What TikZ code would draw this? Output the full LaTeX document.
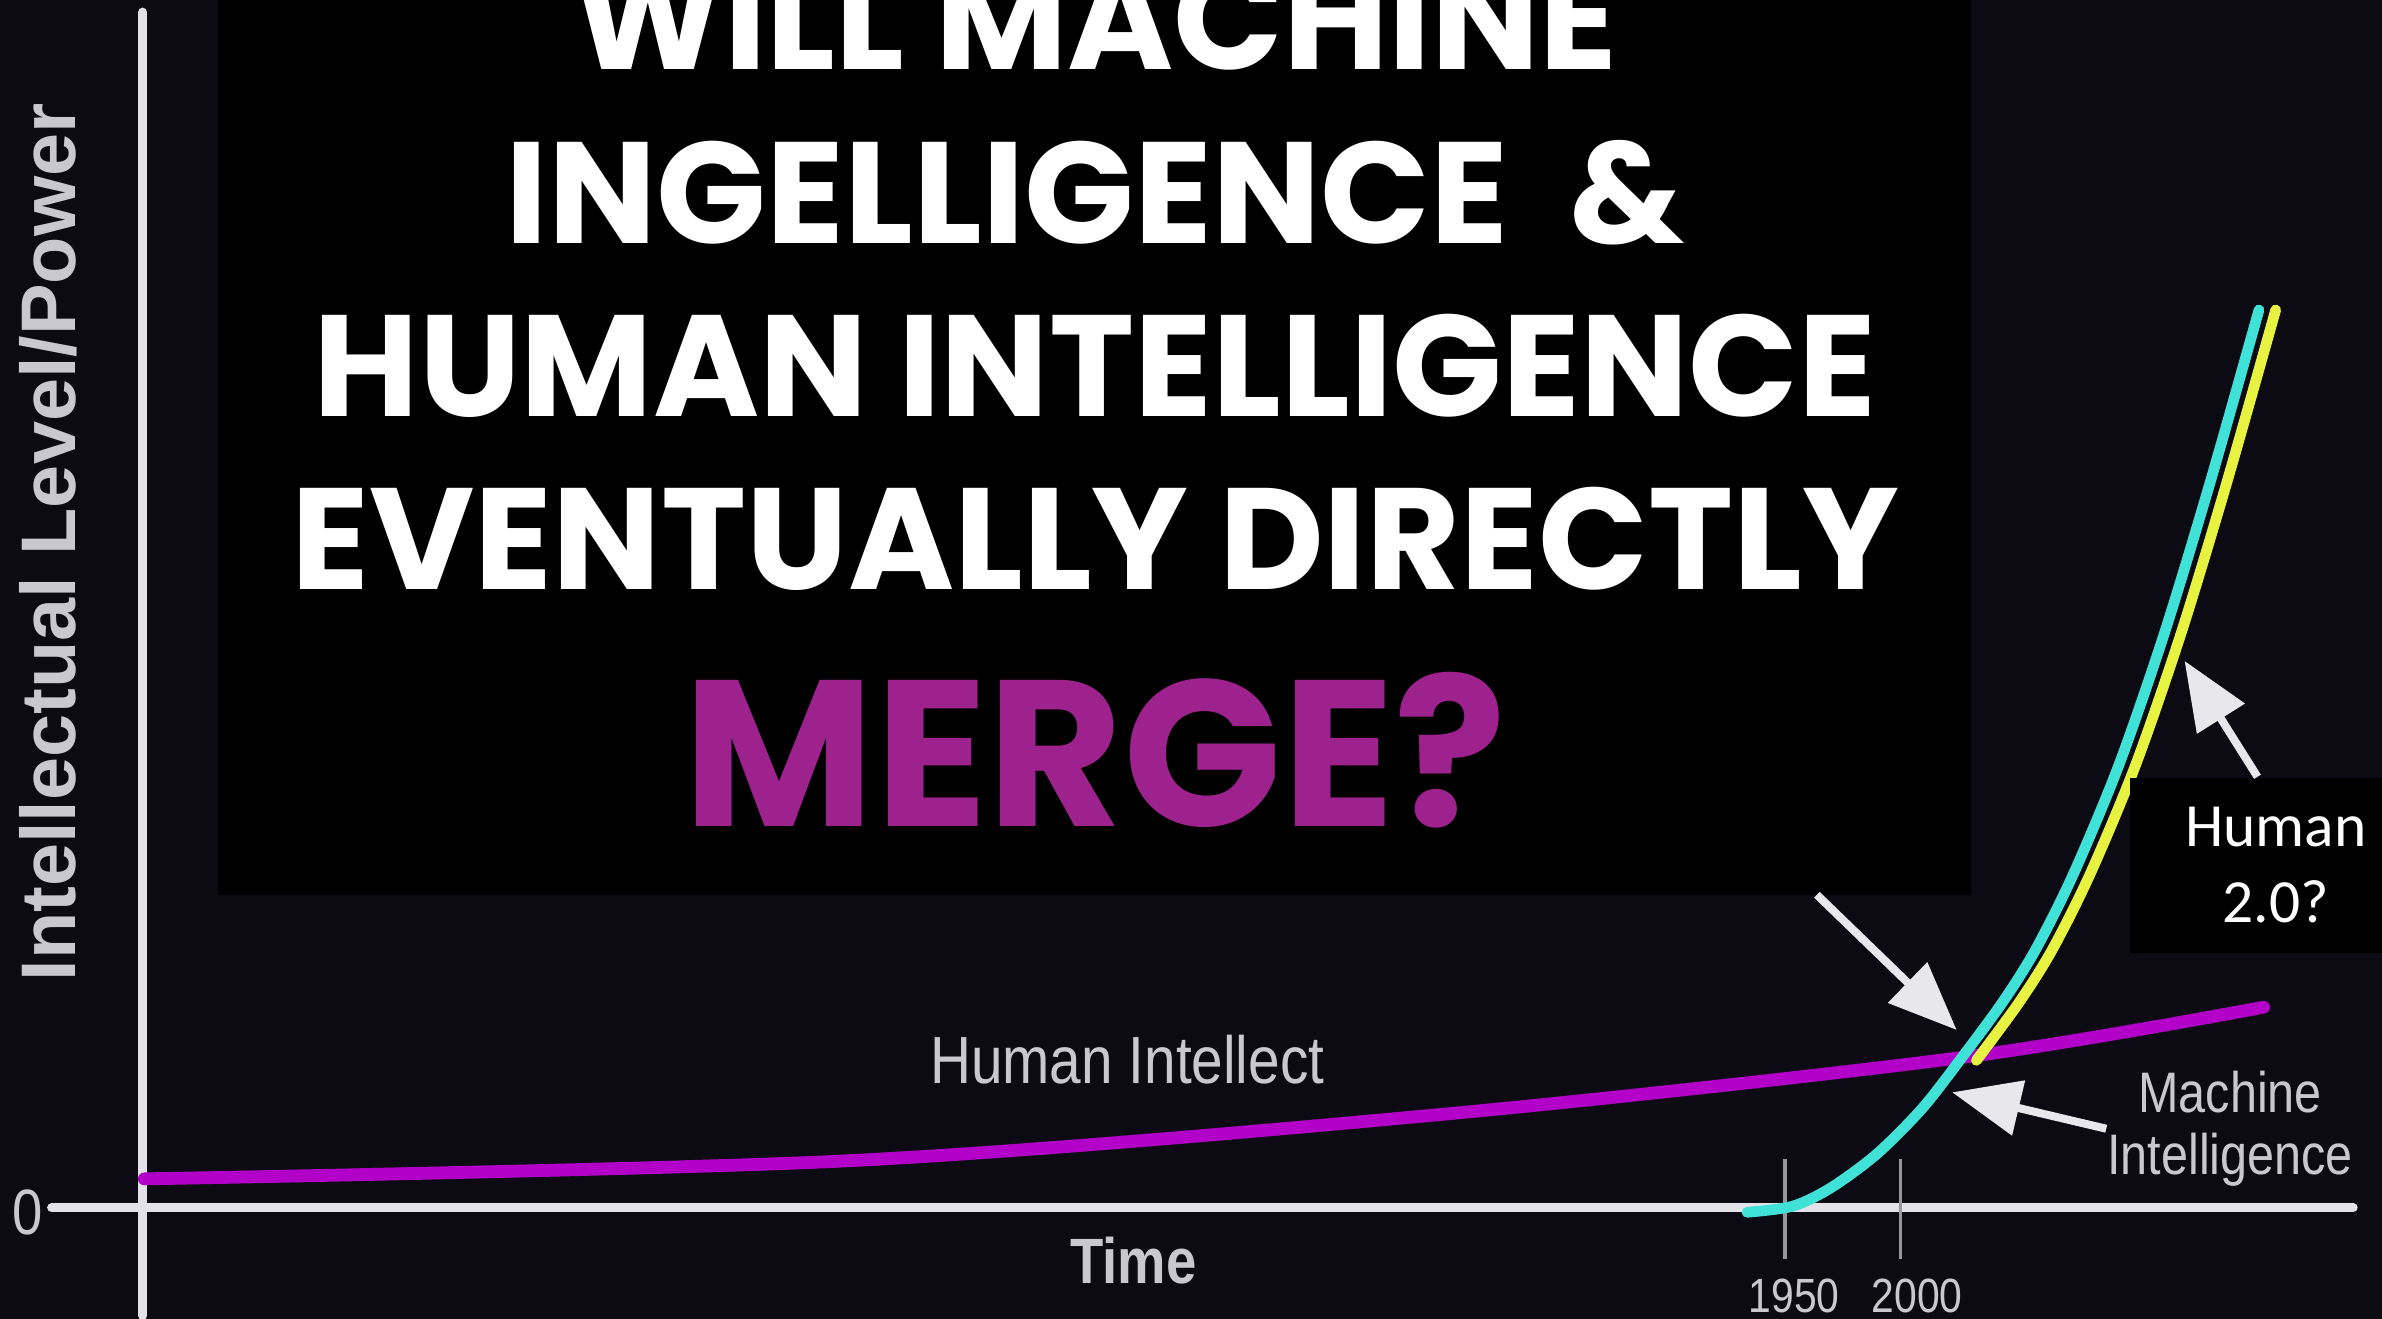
\documentclass[tikz,border=0pt]{standalone}
\usepackage{fontspec}
\usetikzlibrary{arrows.meta}
\newfontfamily\titlefont{Poppins}
\newfontfamily\chartfont{Liberation Sans}[FakeStretch=0.85]
\newfontfamily\axisfont{Liberation Sans}
\newfontfamily\boxfont{Carlito}
\definecolor{bgcol}{RGB}{12,11,20}
\definecolor{axiscol}{RGB}{226,226,232}
\definecolor{tickcol}{RGB}{150,150,158}
\definecolor{labelgray}{RGB}{200,200,206}
\definecolor{arrowcol}{RGB}{232,232,236}
\definecolor{humancol}{RGB}{178,0,200}
\definecolor{machinecol}{RGB}{64,226,216}
\definecolor{mergedcol}{RGB}{232,242,64}
\definecolor{mergecol}{RGB}{158,34,142}
\begin{document}
\begin{tikzpicture}[
    axis/.style={draw=axiscol, line width=1.7pt, line cap=round},
    tickline/.style={draw=tickcol, line width=0.6pt},
    curve/.style={line width=2pt, line cap=round},
    chartlabel/.style={text=labelgray, inner sep=0pt, font=\chartfont\fontsize{12.5}{14}\selectfont},
    titleline/.style={text=white, inner sep=0pt, anchor=base, font=\titlefont\bfseries\fontsize{27}{32}\selectfont},
    pointer/.style={draw=arrowcol, line width=1.5pt, -{Triangle[length=4.5mm,width=3.6mm]}}
  ]
  \path[use as bounding box, fill=bgcol] (0,0) rectangle (15.68,8.68);
  \clip (0,0) rectangle (15.68,8.68);
  \def\humancurve{(0.95,0.92) (5.60,1.04) (9.55,1.35) (12.92,1.72) (14.90,2.05)}
  \def\machinecurve{(11.50,0.70) (11.80,0.74) (12.05,0.86) (12.35,1.08) (12.65,1.38) (12.90,1.70) (13.18,2.08) (13.40,2.43) (13.65,2.93) (13.95,3.65) (14.25,4.52) (14.55,5.51) (14.87,6.64)}
  \def\mergedcurve{(12.90,1.70) (13.18,2.08) (13.40,2.43) (13.65,2.93) (13.95,3.65) (14.25,4.52) (14.55,5.51) (14.87,6.64)}

  % axes
  \draw[axis] (0.94,8.60) -- (0.94,0.02);
  \draw[axis] (0.34,0.73) -- (15.49,0.73);
  \draw[tickline] (11.75,1.05) -- (11.75,0.39);
  \draw[tickline] (12.51,1.05) -- (12.51,0.39);
  \node (zero) [chartlabel, font=\chartfont\fontsize{12}{14}\selectfont] at (0.18,0.70) {0};
  \node (ylab) [chartlabel, rotate=90, font=\axisfont\bfseries\fontsize{14.5}{16}\selectfont] at (0.32,5.11) {Intellectual Level/Power};
  \node (time) [chartlabel, anchor=base, font=\chartfont\bfseries\fontsize{12}{14}\selectfont] at (7.46,0.23) {Time};
  \node (y1950) [chartlabel, anchor=base, font=\chartfont\fontsize{9}{11}\selectfont] at (11.81,0.04) {1950};
  \node (y2000) [chartlabel, anchor=base, font=\chartfont\fontsize{9}{11}\selectfont] at (12.62,0.04) {2000};

  % curves
  \draw[curve, humancol, line width=2.4pt] plot[smooth] coordinates {\humancurve};
  \draw[curve, mergedcol] [xshift=1.1mm] plot[smooth] coordinates {\mergedcurve};
  \draw[curve, machinecol] plot[smooth] coordinates {\machinecurve};
  \node (hi) [chartlabel, anchor=base] at (7.42,1.55) {Human Intellect};
  \node (mi) [chartlabel, align=center, font=\chartfont\fontsize{10.7}{11.7}\selectfont] at (14.68,1.25) {Machine\\Intelligence};

  % title panel
  \node (tbox) [fill=black, minimum width=11.54cm, minimum height=6cm, inner sep=0pt, anchor=south west] at (1.43,2.78) {};
  \node (t1) [titleline] at (7.21,8.22) {WILL MACHINE};
  \node (t2) [titleline] at (7.21,7.08) {INGELLIGENCE\ \ \&};
  \node (t3) [titleline] at (7.21,5.94) {HUMAN INTELLIGENCE};
  \node (t4) [titleline] at (7.21,4.80) {EVENTUALLY DIRECTLY};
  \node (t5) [titleline, text=mergecol, font=\titlefont\bfseries\fontsize{39}{44}\selectfont] at (7.21,3.24) {MERGE?};

  \node (h2) [fill=black, text=white, align=center, inner sep=0pt, minimum width=1.92cm, minimum height=1.15cm, font=\boxfont\fontsize{11.5}{14.2}\selectfont] at (14.98,2.985) {Human\\2.0?};

  % pointers
  \coordinate (atail) at (11.96,2.79);
  \coordinate (xtip) at (12.88,1.90);
  \coordinate (mtip) at (12.85,1.49);
  \coordinate (htip) at (14.38,4.33);
  \draw[pointer] (atail) -- (xtip);
  \draw[pointer] (mi.west) -- (mtip);
  \draw[pointer] ([xshift=-1.2mm]h2.north) -- (htip);
\end{tikzpicture}
\end{document}
